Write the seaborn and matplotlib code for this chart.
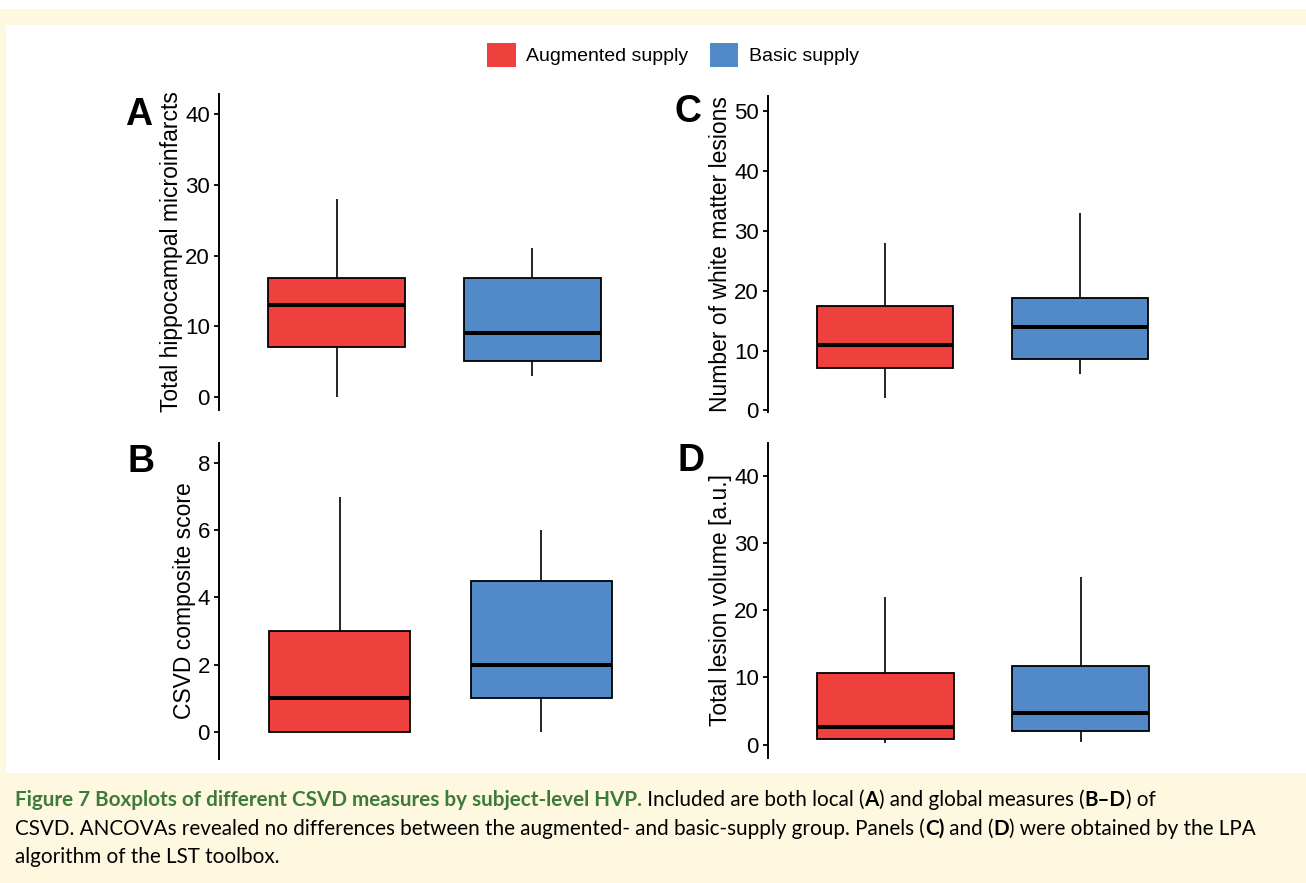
import numpy as np
import pandas as pd
import seaborn as sns
import matplotlib.pyplot as plt
from matplotlib.patches import Patch, Rectangle

# five-number summaries (min, Q1, median, Q3, max)
groups = ['Augmented supply', 'Basic supply']
colors = ['#EE403C', '#528AC9']

microinfarcts_aug = [0, 7, 13, 16.8, 28]
microinfarcts_basic = [3, 5, 9, 16.8, 21]
csvd_aug = [0, 0, 1, 3, 7]
csvd_basic = [0, 1, 2, 4.5, 6]
wml_aug = [2, 7, 11, 17.4, 28]
wml_basic = [6, 8.5, 14, 18.8, 33]
volume_aug = [0.3, 0.8, 2.7, 10.7, 22]
volume_basic = [0.4, 2, 4.7, 11.7, 25]

W, H = 1306, 883
CREAM = '#FEF8E1'

sns.set_style('ticks')
plt.rcParams['font.family'] = ['Liberation Sans', 'DejaVu Sans']
plt.rcParams.update({'text.color': 'black', 'axes.labelcolor': 'black',
                     'xtick.color': 'black', 'ytick.color': 'black'})

fig = plt.figure(figsize=(W / 100, H / 100), dpi=100, facecolor=CREAM)
# page background: white top strip, white figure panel
fig.patches.append(Rectangle((0, 1 - 9 / H), 1, 9 / H, transform=fig.transFigure,
                             facecolor='white', edgecolor='none', zorder=-10))
fig.patches.append(Rectangle((6 / W, 1 - 773 / H), 1 - 6 / W, (773 - 25) / H,
                             transform=fig.transFigure, facecolor='white',
                             edgecolor='none', zorder=-10))


def make_df(aug, basic):
    return pd.DataFrame({'group': [groups[0]] * len(aug) + [groups[1]] * len(basic),
                         'value': list(aug) + list(basic)})


def panel(px, df, ylabel, ylim, ticks, letter, letter_xy):
    x0, x1, y0, y1 = px
    ax = fig.add_axes([x0 / W, 1 - y1 / H, (x1 - x0) / W, (y1 - y0) / H])
    ax.set_facecolor('none')
    sns.boxplot(data=df, x='group', y='value', hue='group', order=groups,
                hue_order=groups, palette=colors, saturation=1, width=0.7,
                whis=(0, 100), showcaps=False, showfliers=False, legend=False,
                linecolor='black', linewidth=1.3,
                medianprops={'linewidth': 2.9, 'color': 'black'},
                whiskerprops={'linewidth': 1.2, 'color': 'black'}, ax=ax)
    ax.set_xlim(-0.6, 1.6)
    ax.set_ylim(*ylim)
    ax.set_yticks(ticks)
    ax.set_xticks([])
    ax.set_xlabel('')
    ax.set_ylabel(ylabel, fontsize=16.5, labelpad=1.5)
    ax.tick_params(axis='y', labelsize=16, length=3.5, width=1.3, pad=3, color='black',
                   labelcolor='black')
    for s in ['top', 'right', 'bottom']:
        ax.spines[s].set_visible(False)
    ax.spines['left'].set_linewidth(1.4)
    ax.spines['left'].set_color('black')
    fig.text(letter_xy[0] / W, 1 - letter_xy[1] / H, letter, fontsize=27,
             fontweight='bold', ha='left', va='baseline', color='black')
    return ax


panel((219, 650, 94, 410), make_df(microinfarcts_aug, microinfarcts_basic),
      'Total hippocampal microinfarcts', (-1.88, 42.88), [0, 10, 20, 30, 40], 'A', (125, 125))
panel((768, 1197, 96, 412), make_df(wml_aug, wml_basic),
      'Number of white matter lesions', (-0.27, 52.5), [0, 10, 20, 30, 40, 50], 'C', (675, 122))
panel((219, 662, 443, 759), make_df(csvd_aug, csvd_basic),
      'CSVD composite score', (-0.82, 8.61), [0, 2, 4, 6, 8], 'B', (127, 472))
panel((768, 1198, 443, 758), make_df(volume_aug, volume_basic),
      'Total lesion volume [a.u.]', (-1.98, 44.86), [0, 10, 20, 30, 40], 'D', (677, 471))

handles = [Patch(facecolor=c, edgecolor='none') for c in colors]
fig.legend(handles, groups, loc='center', bbox_to_anchor=(673 / W, 1 - 55 / H), ncol=2,
           frameon=False, fontsize=14, handlelength=1.45, handleheight=1.45,
           handletextpad=0.55, columnspacing=1.1)

# caption with mixed bold / colour
GREEN = '#3E7B3A'
cap_font = ['Lato', 'DejaVu Sans']
renderer = fig.canvas.get_renderer()


def text_width(s, size, bold):
    t = fig.text(0, 0, s, fontsize=size, fontweight='bold' if bold else 'normal', family=cap_font)
    w = t.get_window_extent(renderer).width
    t.remove()
    return w


def seg_width(s, size, bold):
    # keep spaces at the ends in the measurement
    return text_width('|' + s + '|', size, bold) - 2 * text_width('|', size, bold) + \
        (text_width('||', size, bold) - 2 * text_width('|', size, bold))


def draw_line(segments, x, y, size, draw=True):
    for s, bold, color in segments:
        if draw:
            fig.text(x / W, 1 - y / H, s, fontsize=size, family=cap_font, color=color,
                     fontweight='bold' if bold else 'normal', ha='left', va='baseline')
        x += seg_width(s, size, bold)
    return x


line1 = [('Figure 7 Boxplots of different CSVD measures by subject-level HVP.', True, GREEN),
         (' Included are both local (', False, 'black'), ('A', True, 'black'),
         (') and global measures (', False, 'black'), ('B–D', True, 'black'),
         (') of', False, 'black')]
line2 = [('CSVD. ANCOVAs revealed no differences between the augmented- and basic-supply group. Panels (',
          False, 'black'), ('C)', True, 'black'), (' and (', False, 'black'),
         ('D', True, 'black'), (') were obtained by the LPA', False, 'black')]
line3 = [('algorithm of the LST toolbox.', False, 'black')]

base = 13
w1 = draw_line(line1, 0, 0, base, draw=False)
w2 = draw_line(line2, 0, 0, base, draw=False)
size = base * min(1185 / w1, 1235 / w2)
draw_line(line1, 15, 806, size)
draw_line(line2, 15, 835, size)
draw_line(line3, 15, 863, size)

fig.savefig('out.png', dpi=100, facecolor=CREAM)
